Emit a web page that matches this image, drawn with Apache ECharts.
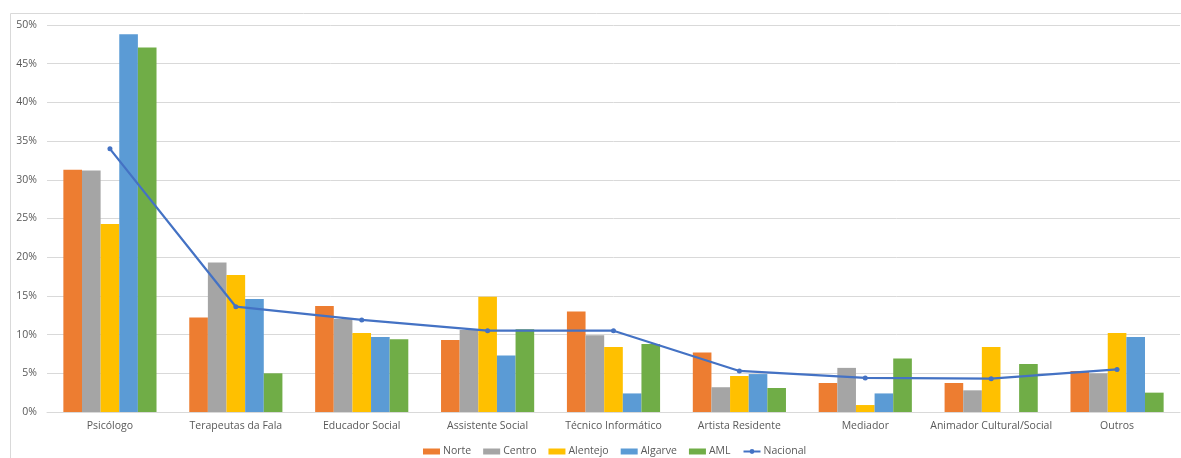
<!DOCTYPE html>
<html>
<head>
<meta charset="utf-8">
<script src="https://cdn.jsdelivr.net/npm/echarts@6/dist/echarts.min.js"></script>
<style>
  html, body { margin: 0; padding: 0; background: #fff; }
  #chart { width: 1181px; height: 458px; }
</style>
</head>
<body>
<div id="chart"></div>
<script>
// categorias (profissões)
const categories = ['Psicólogo', 'Terapeutas da Fala', 'Educador Social', 'Assistente Social',
  'Técnico Informático', 'Artista Residente', 'Mediador', 'Animador Cultural/Social', 'Outros'];

// valores em % por região
const norte    = [31.3, 12.2, 13.7, 9.3, 13.0, 7.7, 3.75, 3.75, 5.3];
const centro   = [31.2, 19.3, 12.0, 10.6, 9.9, 3.2, 5.7, 2.8, 5.0];
const alentejo = [24.3, 17.7, 10.2, 14.9, 8.4, 4.65, 0.9, 8.4, 10.2];
const algarve  = [48.8, 14.6, 9.7, 7.3, 2.4, 4.9, 2.4, 0, 9.7];
const aml      = [47.1, 5.0, 9.4, 10.7, 8.8, 3.1, 6.9, 6.2, 2.5];
const nacional = [34.0, 13.6, 11.9, 10.5, 10.5, 5.3, 4.4, 4.3, 5.5];

const font = '"Open Sans", "Liberation Sans", sans-serif';
const textColor = '#595959';

const myChart = echarts.init(document.getElementById('chart'));

const bar = (name, data, color) => ({
  name, type: 'bar', data,
  barGap: 0, barCategoryGap: '26%',
  itemStyle: { color },
  emphasis: { disabled: true }
});

const option = {
  animation: false,
  textStyle: { fontFamily: font },
  graphic: [{
    type: 'rect',
    shape: { x: 10.5, y: 13.5, width: 1200, height: 500 },
    style: { fill: 'none', stroke: '#d9d9d9', lineWidth: 1 },
    silent: true
  }],
  grid: { left: 47, right: 1, top: 25, bottom: 46 },
  legend: {
    top: 441,
    left: 418,
    itemWidth: 17,
    itemHeight: 6,
    itemGap: 12,
    textStyle: { color: textColor, fontSize: 10.5, fontFamily: font, padding: [0, 0, 0, -2] },
    data: [
      { name: 'Norte', icon: 'rect' },
      { name: 'Centro', icon: 'rect' },
      { name: 'Alentejo', icon: 'rect' },
      { name: 'Algarve', icon: 'rect' },
      { name: 'AML', icon: 'rect' },
      { name: 'Nacional' }
    ]
  },
  xAxis: {
    type: 'category',
    data: categories,
    axisLine: { lineStyle: { color: '#d9d9d9' } },
    axisTick: { show: false },
    axisLabel: { color: textColor, fontSize: 10.5, margin: 9, interval: 0 }
  },
  yAxis: {
    type: 'value',
    min: 0, max: 50, interval: 5,
    axisLabel: { color: textColor, fontSize: 10.5, margin: 10, formatter: '{value}%' },
    splitLine: { lineStyle: { color: '#d9d9d9' } },
    axisLine: { show: false },
    axisTick: { show: false }
  },
  series: [
    bar('Norte', norte, '#ED7D31'),
    bar('Centro', centro, '#A5A5A5'),
    bar('Alentejo', alentejo, '#FFC000'),
    bar('Algarve', algarve, '#5B9BD5'),
    bar('AML', aml, '#70AD47'),
    {
      name: 'Nacional', type: 'line', data: nacional,
      symbol: 'circle', symbolSize: 5,
      lineStyle: { color: '#4472C4', width: 2.25 },
      itemStyle: { color: '#4472C4' },
      emphasis: { disabled: true },
      z: 5
    }
  ]
};

myChart.setOption(option);
</script>
</body>
</html>
